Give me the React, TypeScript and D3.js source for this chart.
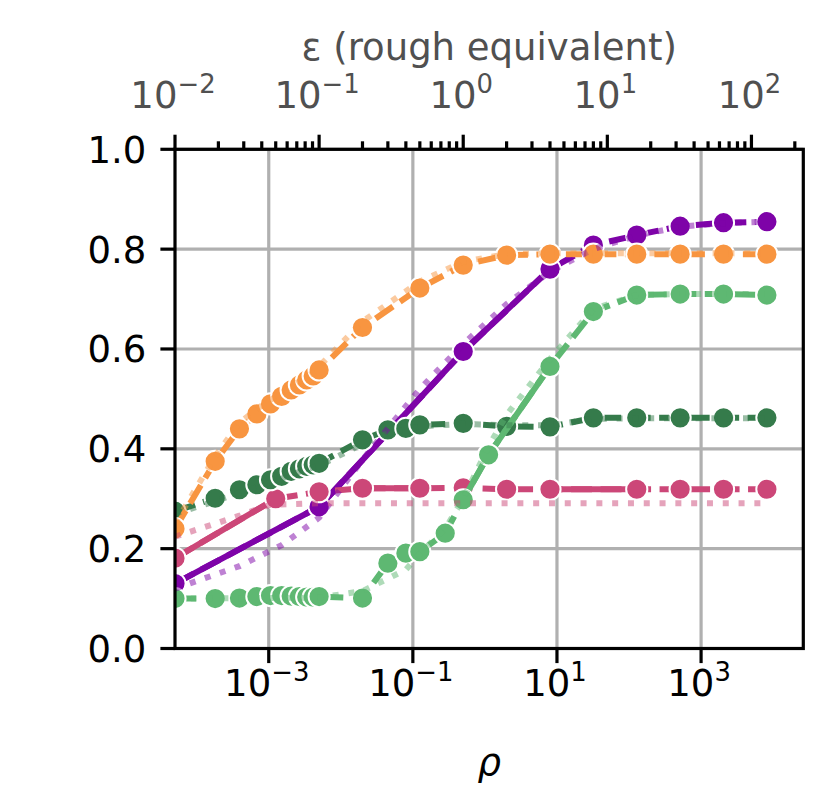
import { useEffect, useRef } from 'react';
import * as d3 from 'd3';

const WIDTH = 832;
const HEIGHT = 805;

// epsilon grid (top axis) and accuracy values
const orangeEps = [0.01, 0.019, 0.028, 0.037, 0.046, 0.055, 0.064, 0.073, 0.082, 0.091, 0.1, 0.2, 0.5, 1, 2, 4, 8, 16, 32, 64, 128];
const orangeVals = [0.24, 0.375, 0.44, 0.47, 0.49, 0.505, 0.518, 0.528, 0.538, 0.546, 0.558, 0.643, 0.722, 0.768, 0.788, 0.79, 0.79, 0.79, 0.79, 0.79, 0.79];
const orangeDotEps = [0.01, 0.019, 0.028, 0.037, 0.046, 0.055, 0.064, 0.073, 0.082, 0.091, 0.1, 0.2, 0.5, 1, 2, 4, 8, 16, 32, 64, 128];
const orangeDotVals = [0.25, 0.385, 0.452, 0.48, 0.498, 0.512, 0.525, 0.535, 0.545, 0.553, 0.565, 0.655, 0.735, 0.775, 0.79, 0.792, 0.792, 0.792, 0.792, 0.792, 0.792];

const purpleEps = [0.01, 0.1, 1, 4, 8, 16, 32, 64, 128];
const purpleVals = [0.13, 0.284, 0.595, 0.76, 0.808, 0.828, 0.846, 0.853, 0.855];
const purpleSolidRuns = [[0.01, 4]];
const purpleDotEps = [0.01, 0.028, 0.055, 0.1, 0.2, 0.5, 1, 2, 4, 8, 16, 32, 64, 128];
const purpleDotVals = [0.12, 0.165, 0.207, 0.262, 0.378, 0.52, 0.61, 0.69, 0.755, 0.8, 0.827, 0.845, 0.852, 0.855];

const pinkEps = [0.01, 0.05, 0.1, 0.2, 0.5, 1, 2, 4, 16, 32, 64, 128];
const pinkVals = [0.181, 0.3, 0.314, 0.321, 0.321, 0.322, 0.319, 0.319, 0.319, 0.319, 0.319, 0.319];
const pinkSolidRuns = [[0.01, 0.05], [0.2, 0.5], [4, 16]];
const pinkDotEps = [0.01, 0.019, 0.028, 0.037, 0.046, 0.1, 0.2, 0.5, 1, 2, 4, 8, 16, 32, 64, 128];
const pinkDotVals = [0.224, 0.25, 0.266, 0.279, 0.288, 0.291, 0.291, 0.291, 0.291, 0.291, 0.291, 0.291, 0.291, 0.291, 0.291, 0.291];

const darkGreenEps = [0.01, 0.019, 0.028, 0.037, 0.046, 0.055, 0.064, 0.073, 0.082, 0.091, 0.1, 0.2, 0.3, 0.4, 0.5, 1, 2, 4, 8, 16, 32, 64, 128];
const darkGreenVals = [0.275, 0.301, 0.318, 0.328, 0.338, 0.345, 0.355, 0.36, 0.365, 0.368, 0.371, 0.418, 0.438, 0.441, 0.448, 0.451, 0.445, 0.444, 0.462, 0.462, 0.462, 0.462, 0.462];
const darkGreenDotEps = [0.01, 0.019, 0.028, 0.037, 0.046, 0.055, 0.064, 0.073, 0.082, 0.091, 0.1, 0.2, 0.3, 0.4, 0.5, 1, 2, 4, 8, 16, 32, 64, 128];
const darkGreenDotVals = [0.27, 0.295, 0.312, 0.323, 0.333, 0.34, 0.348, 0.354, 0.359, 0.363, 0.366, 0.41, 0.432, 0.438, 0.445, 0.45, 0.447, 0.447, 0.46, 0.461, 0.461, 0.461, 0.461];

const lightGreenEps = [0.01, 0.019, 0.028, 0.037, 0.046, 0.055, 0.064, 0.073, 0.082, 0.091, 0.1, 0.2, 0.3, 0.4, 0.5, 0.75, 1, 1.5, 4, 8, 16, 32, 64, 128];
const lightGreenVals = [0.1, 0.1, 0.101, 0.104, 0.106, 0.106, 0.105, 0.104, 0.103, 0.103, 0.104, 0.101, 0.171, 0.191, 0.194, 0.231, 0.298, 0.388, 0.565, 0.675, 0.708, 0.71, 0.71, 0.708];
const lightGreenSolidRuns = [[1, 4]];
const lightGreenDotEps = [0.01, 0.1, 0.2, 0.3, 0.4, 0.5, 0.75, 1, 1.5, 2, 4, 8, 16, 32, 64, 128];
const lightGreenDotVals = [0.1, 0.102, 0.115, 0.14, 0.158, 0.19, 0.24, 0.3, 0.405, 0.468, 0.58, 0.68, 0.708, 0.71, 0.71, 0.71];

// axes
const epsDomain = [0.01, 229];
const topTicks = [0.01, 0.1, 1, 10, 100];
const topTickExps = ['\u22122', '\u22121', '0', '1', '2'];
const bottomTicks = [1e-3, 1e-1, 1e1, 1e3];
const bottomTickExps = ['\u22123', '\u22121', '1', '3'];
const yTicks = [0, 0.2, 0.4, 0.6, 0.8, 1.0];

const PURPLE = '#7e03a8';
const PINK = '#cc4778';
const DARK_GREEN = '#357b4b';
const LIGHT_GREEN = '#5eb872';
const ORANGE = '#f89540';

interface Series {
  color: string;
  eps: number[];
  vals: number[];
  solidRuns: number[][];
  dotEps: number[];
  dotVals: number[];
}

// drawing order matters: later series sit on top
const series: Series[] = [
  { color: PURPLE, eps: purpleEps, vals: purpleVals, solidRuns: purpleSolidRuns, dotEps: purpleDotEps, dotVals: purpleDotVals },
  { color: PINK, eps: pinkEps, vals: pinkVals, solidRuns: pinkSolidRuns, dotEps: pinkDotEps, dotVals: pinkDotVals },
  { color: DARK_GREEN, eps: darkGreenEps, vals: darkGreenVals, solidRuns: [], dotEps: darkGreenDotEps, dotVals: darkGreenDotVals },
  { color: LIGHT_GREEN, eps: lightGreenEps, vals: lightGreenVals, solidRuns: lightGreenSolidRuns, dotEps: lightGreenDotEps, dotVals: lightGreenDotVals },
  { color: ORANGE, eps: orangeEps, vals: orangeVals, solidRuns: [], dotEps: orangeDotEps, dotVals: orangeDotVals },
];

export default function App() {
  const svgRef = useRef<SVGSVGElement>(null);

  useEffect(() => {
    if (!svgRef.current) return;
    const svg = d3.select(svgRef.current);
    svg.selectAll('*').remove();

    const left = 175;
    const right = 803.3;
    const top = 149.3;
    const bottom = 648.5;
    const font = '"DejaVu Sans", sans-serif';
    const fontSize = 37;
    const tickLen = 14.6;
    const minorLen = 8;
    const lw = 3.2;
    const lineW = 6;

    const x = d3.scaleLog().domain(epsDomain).range([left, right]);
    // rho = eps^2 / 2 (zCDP rough equivalence)
    const xRho = d3.scaleLog()
      .domain(epsDomain.map(e => (e * e) / 2))
      .range([left, right]);
    const y = d3.scaleLinear().domain([0, 1]).range([bottom, top]);

    svg.append('rect').attr('width', WIDTH).attr('height', HEIGHT).attr('fill', '#fff');

    svg.append('defs').append('clipPath').attr('id', 'plot-clip')
      .append('rect')
      .attr('x', left).attr('y', top)
      .attr('width', right - left).attr('height', bottom - top);

    // Grid
    const grid = svg.append('g').attr('stroke', '#b0b0b0').attr('stroke-width', lw);
    grid.selectAll('.gx').data(bottomTicks).join('line')
      .attr('x1', d => xRho(d)).attr('x2', d => xRho(d))
      .attr('y1', top).attr('y2', bottom);
    grid.selectAll('.gy').data(yTicks).join('line')
      .attr('x1', left).attr('x2', right)
      .attr('y1', d => y(d)).attr('y2', d => y(d));

    const plot = svg.append('g').attr('clip-path', 'url(#plot-clip)');
    const line = d3.line<[number, number]>().x(d => x(d[0])).y(d => y(d[1]));
    const pts = (e: number[], v: number[]) => e.map((d, i) => [d, v[i]] as [number, number]);

    // main lines with markers
    series.forEach(s => {
      const p = pts(s.eps, s.vals);
      plot.append('path')
        .datum(p)
        .attr('fill', 'none')
        .attr('stroke', s.color)
        .attr('stroke-width', lineW)
        .attr('stroke-dasharray', '21 8.5')
        .attr('d', line);
      s.solidRuns.forEach(([a, b]) => {
        plot.append('path')
          .datum(p.filter(d => d[0] >= a && d[0] <= b))
          .attr('fill', 'none')
          .attr('stroke', s.color)
          .attr('stroke-width', lineW)
          .attr('d', line);
      });
      plot.append('g').selectAll('circle').data(p).join('circle')
        .attr('cx', d => x(d[0]))
        .attr('cy', d => y(d[1]))
        .attr('r', 10.6)
        .attr('fill', s.color)
        .attr('stroke', '#fff')
        .attr('stroke-width', 2);
    });

    // faint dotted companions
    series.forEach(s => {
      plot.append('path')
        .datum(pts(s.dotEps, s.dotVals))
        .attr('fill', 'none')
        .attr('stroke', s.color)
        .attr('stroke-opacity', 0.5)
        .attr('stroke-width', lineW)
        .attr('stroke-dasharray', '6 9.8')
        .attr('d', line);
    });

    // Spines
    svg.append('rect')
      .attr('x', left).attr('y', top)
      .attr('width', right - left).attr('height', bottom - top)
      .attr('fill', 'none').attr('stroke', '#000').attr('stroke-width', lw);

    const ticks = svg.append('g').attr('stroke', '#000').attr('stroke-width', lw);

    // Y ticks
    ticks.selectAll('.ty').data(yTicks).join('line')
      .attr('x1', left - tickLen).attr('x2', left)
      .attr('y1', d => y(d)).attr('y2', d => y(d));
    svg.append('g').selectAll('text').data(yTicks).join('text')
      .attr('x', left - tickLen - 14)
      .attr('y', d => y(d) + 13.5)
      .attr('text-anchor', 'end')
      .style('font-family', font)
      .style('font-size', `${fontSize}px`)
      .style('fill', '#000')
      .text(d => d3.format('.1f')(d));

    // Bottom ticks (rho)
    ticks.selectAll('.tb').data(bottomTicks).join('line')
      .attr('x1', d => xRho(d)).attr('x2', d => xRho(d))
      .attr('y1', bottom).attr('y2', bottom + tickLen);

    const powLabel = (
      g: d3.Selection<SVGGElement, unknown, null, undefined>,
      vals: number[],
      exps: string[],
      scale: (v: number) => number,
      baseY: number,
      color: string,
    ) => {
      vals.forEach((v, i) => {
        const t = g.append('text')
          .attr('x', scale(v) - 2)
          .attr('y', baseY)
          .attr('text-anchor', 'middle')
          .style('font-family', font)
          .style('font-size', `${fontSize}px`)
          .style('fill', color);
        t.append('tspan').text('10');
        t.append('tspan')
          .attr('dy', -15)
          .style('font-size', `${fontSize * 0.7}px`)
          .text(exps[i]);
      });
    };

    powLabel(svg.append('g'), bottomTicks, bottomTickExps, xRho, 696, '#000');

    // Top ticks (epsilon)
    const minor = x.ticks().filter(t => !topTicks.some(m => Math.abs(m - t) / m < 1e-6));
    ticks.selectAll('.tt').data(topTicks).join('line')
      .attr('x1', d => x(d)).attr('x2', d => x(d))
      .attr('y1', top).attr('y2', top - tickLen);
    ticks.selectAll('.tm').data(minor).join('line')
      .attr('x1', d => x(d)).attr('x2', d => x(d))
      .attr('y1', top).attr('y2', top - minorLen);

    powLabel(svg.append('g'), topTicks, topTickExps, x, 108, '#505050');

    // Axis titles
    svg.append('text')
      .attr('x', (left + right) / 2)
      .attr('y', 60)
      .attr('text-anchor', 'middle')
      .style('font-family', font)
      .style('font-size', `${fontSize}px`)
      .style('fill', '#505050')
      .text('\u03b5 (rough equivalent)');

    svg.append('text')
      .attr('x', (left + right) / 2)
      .attr('y', 775)
      .attr('text-anchor', 'middle')
      .style('font-family', font)
      .style('font-size', `${fontSize}px`)
      .style('font-style', 'italic')
      .style('fill', '#000')
      .text('\u03c1');
  }, []);

  return (
    <svg
      ref={svgRef}
      width={WIDTH}
      height={HEIGHT}
      viewBox={`0 0 ${WIDTH} ${HEIGHT}`}
      style={{ position: 'absolute', left: 0, top: 0, display: 'block' }}
    />
  );
}
